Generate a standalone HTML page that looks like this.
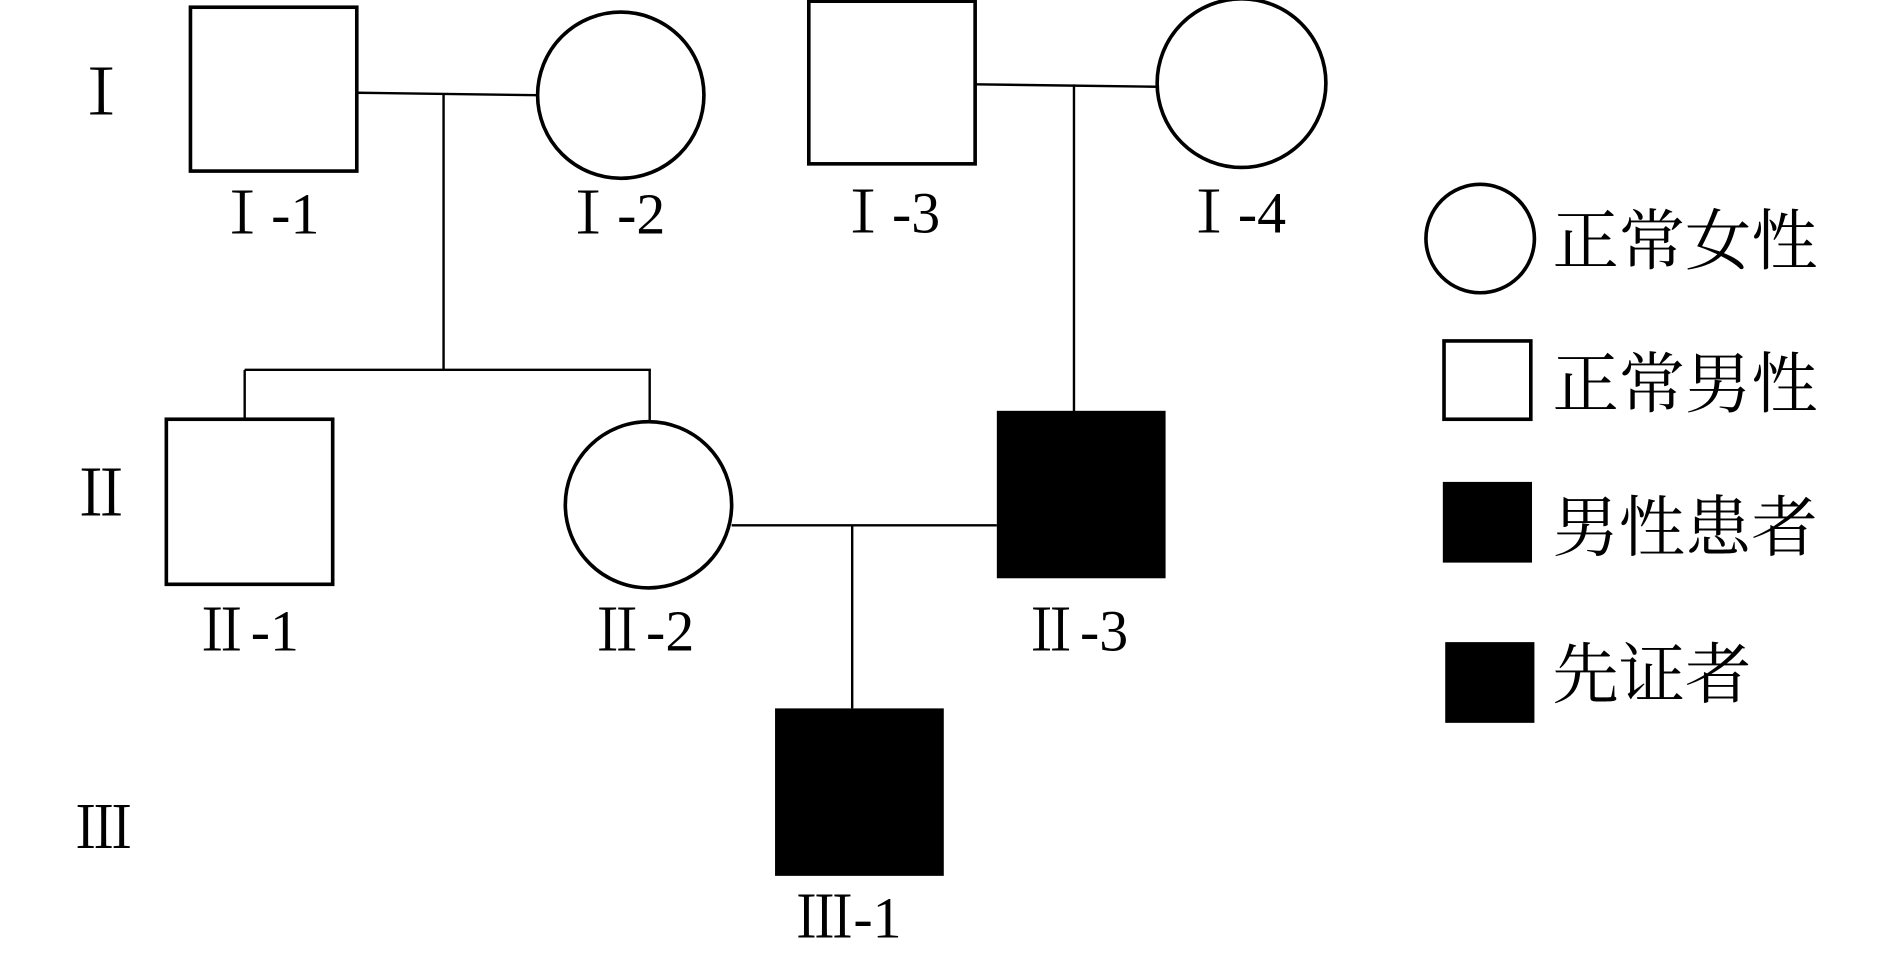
<!DOCTYPE html>
<html><head><meta charset="utf-8"><style>html,body{margin:0;padding:0;background:#fff}svg{display:block}</style></head>
<body>
<svg width="1890" height="965" viewBox="0 0 1568 801" preserveAspectRatio="none" xmlns="http://www.w3.org/2000/svg">
<g fill="none" stroke="#000" stroke-width="3">
<rect x="158" y="6" width="138" height="136"/>
<circle cx="515" cy="79" r="69"/>
<line x1="296" y1="77" x2="446" y2="79" stroke-width="2"/>
<line x1="368" y1="78" x2="368" y2="308" stroke-width="2"/>
<rect x="671" y="1" width="138" height="135"/>
<circle cx="1030" cy="69" r="70"/>
<line x1="809" y1="70" x2="960" y2="72" stroke-width="2"/>
<line x1="891" y1="70" x2="891" y2="342" stroke-width="2"/>
<line x1="203" y1="307" x2="540" y2="307" stroke-width="2"/>
<line x1="203" y1="307" x2="203" y2="348" stroke-width="2"/>
<line x1="539" y1="307" x2="539" y2="350" stroke-width="2"/>
<rect x="138" y="348" width="138" height="137"/>
<circle cx="538" cy="419" r="69"/>
<line x1="607" y1="436" x2="827" y2="436" stroke-width="2"/>
<line x1="707" y1="436" x2="707" y2="588" stroke-width="2"/>
<circle cx="1228" cy="198" r="45"/>
<rect x="1198" y="283" width="72" height="65"/>
</g>
<rect x="827" y="341" width="140" height="139" fill="#000"/>
<rect x="643" y="588" width="140" height="139" fill="#000"/>
<rect x="1197" y="400" width="74" height="67" fill="#000"/>
<rect x="1199" y="533" width="74" height="67" fill="#000"/>
<g font-family="'Liberation Serif','Noto Serif CJK SC',serif" font-size="48" fill="#000">
<text x="58" y="95" font-size="52">Ⅰ</text>
<text x="58" y="428" font-size="52">Ⅱ</text>
<text x="62" y="704" font-size="48">Ⅲ</text>
<text x="177" y="194">Ⅰ-1</text>
<text x="464" y="194">Ⅰ-2</text>
<text x="692" y="193">Ⅰ-3</text>
<text x="979" y="193">Ⅰ-4</text>
<text x="160" y="540">Ⅱ-1</text>
<text x="488" y="540">Ⅱ-2</text>
<text x="848" y="540">Ⅱ-3</text>
<text x="660" y="778">Ⅲ-1</text>
</g>
<g font-family="'Noto Serif CJK SC','Noto Sans CJK SC',serif" font-size="55" fill="#000">
<text x="1288" y="219">正常女性</text>
<text x="1288" y="338">正常男性</text>
<text x="1288" y="457">男性患者</text>
<text x="1288" y="579">先证者</text>
</g>
</svg>
</body></html>
